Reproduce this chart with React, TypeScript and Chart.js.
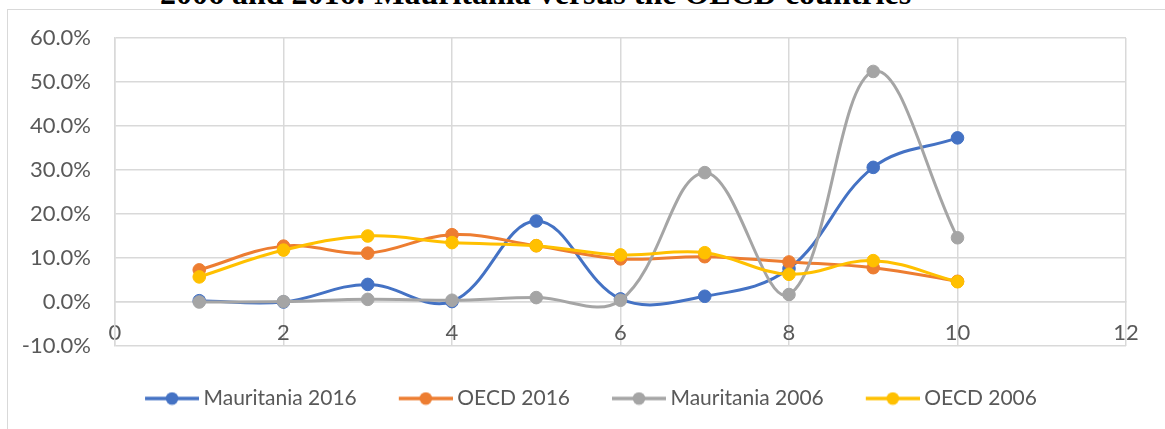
import React, { useEffect, useRef } from "react";
import { Chart, registerables } from "chart.js";

Chart.register(...registerables);

const titleText = "2006 and 2016: Mauritania versus the OECD countries";
const xValues = [1, 2, 3, 4, 5, 6, 7, 8, 9, 10];
const seriesNames = ["Mauritania 2016", "OECD 2016", "Mauritania 2006", "OECD 2006"];
const mauritania2016 = [0.3, 0.0, 4.0, 0.1, 18.4, 0.7, 1.3, 7.6, 30.6, 37.3];
const oecd2016 = [7.3, 12.7, 11.1, 15.3, 12.8, 9.8, 10.3, 9.1, 7.8, 4.7];
const mauritania2006 = [0.0, 0.1, 0.6, 0.4, 1.0, 0.4, 29.4, 1.7, 52.4, 14.6];
const oecd2006 = [5.7, 11.8, 15.0, 13.5, 12.8, 10.7, 11.2, 6.3, 9.4, 4.6];
const seriesColors = ["#4472C4", "#ED7D31", "#A5A5A5", "#FFC000"];
const xMin = 0, xMax = 12, xStep = 2;
const yMin = -10, yMax = 60, yStep = 10;

const FONT = "Lato, 'Open Sans', sans-serif";
const GRID = "#d9d9d9";
const TEXT = "#595959";
const LEGEND_SHIFT = 28;

function makeIcon(color: string) {
  const c = document.createElement("canvas");
  c.width = 60;
  c.height = 14;
  const ctx = c.getContext("2d")!;
  ctx.strokeStyle = color;
  ctx.lineWidth = 3.5;
  ctx.beginPath();
  ctx.moveTo(6, 7);
  ctx.lineTo(60, 7);
  ctx.stroke();
  ctx.fillStyle = color;
  ctx.beginPath();
  ctx.arc(33, 7, 6.3, 0, Math.PI * 2);
  ctx.fill();
  return c;
}

const shiftLegend = {
  id: "shiftLegend",
  afterLayout(chart: any) {
    const l = chart.legend;
    if (l) {
      l.left += LEGEND_SHIFT;
      l.right += LEGEND_SHIFT;
    }
  },
};

export default function App() {
  const ref = useRef<HTMLCanvasElement | null>(null);
  useEffect(() => {
    if (!ref.current) return;
    const all = [mauritania2016, oecd2016, mauritania2006, oecd2006];
    const icons = seriesColors.map(makeIcon);
    const chart = new Chart(ref.current, {
      type: "scatter",
      data: {
        datasets: all.map((vals, i) => ({
          label: seriesNames[i],
          data: xValues.map((x, j) => ({ x, y: vals[j] })),
          showLine: true,
          borderColor: seriesColors[i],
          backgroundColor: seriesColors[i],
          borderWidth: 3,
          pointRadius: 6.3,
          pointBorderWidth: 1,
          pointBorderColor: seriesColors[i],
          pointBackgroundColor: seriesColors[i],
          tension: 0.38,
          order: 4 - i,
        })),
      },
      options: {
        animation: false,
        responsive: false,
        maintainAspectRatio: false,
        layout: { padding: { left: 0, right: 39, top: 38, bottom: 10 } },
        scales: {
          x: {
            type: "linear",
            position: { y: 0 } as any,
            min: xMin,
            max: xMax,
            ticks: {
              stepSize: xStep,
              color: TEXT,
              font: { family: FONT, size: 22 },
              padding: 18,
              maxRotation: 0,
            },
            grid: { color: GRID, lineWidth: 1.5, drawTicks: false },
            border: { color: GRID, width: 1.5 },
          },
          y: {
            type: "linear",
            min: yMin,
            max: yMax,
            afterFit: (s: any) => {
              s.width = 115;
            },
            ticks: {
              stepSize: yStep,
              color: TEXT,
              font: { family: FONT, size: 22 },
              padding: 24,
              callback: (v: any) => Number(v).toFixed(1) + "%",
            },
            grid: { color: GRID, lineWidth: 1.5, drawTicks: false },
            border: { color: GRID, width: 1.5 },
          },
        },
        plugins: {
          tooltip: { enabled: false },
          legend: {
            position: "bottom",
            labels: {
              usePointStyle: true,
              pointStyleWidth: 48,
              padding: 42,
              color: TEXT,
              font: { family: FONT, size: 21 },
              generateLabels: (c: any) => {
                const items = (Chart.defaults.plugins.legend.labels as any).generateLabels(c);
                items.forEach((it: any) => {
                  it.pointStyle = icons[it.datasetIndex];
                });
                return items.sort((a: any, b: any) => a.datasetIndex - b.datasetIndex);
              },
            },
          },
        },
      },
      plugins: [shiftLegend],
    });
    return () => chart.destroy();
  }, []);

  return (
    <div
      style={{
        position: "fixed",
        left: 0,
        top: 0,
        width: 1165,
        height: 429,
        overflow: "hidden",
        background: "#fff",
      }}
    >
      <div
        style={{
          position: "absolute",
          left: 160,
          top: -23,
          fontFamily: "'Liberation Serif', 'Times New Roman', serif",
          fontWeight: "bold",
          fontSize: 32,
          lineHeight: "32px",
          whiteSpace: "nowrap",
          color: "#000",
        }}
      >
        {titleText}
      </div>
      <div
        style={{
          position: "absolute",
          left: 7,
          top: 9,
          width: 1200,
          height: 500,
          border: "1.5px solid " + GRID,
          boxSizing: "border-box",
        }}
      />
      <canvas
        ref={ref}
        width={1165}
        height={429}
        style={{ position: "absolute", left: 0, top: 0, width: 1165, height: 429 }}
      />
    </div>
  );
}
